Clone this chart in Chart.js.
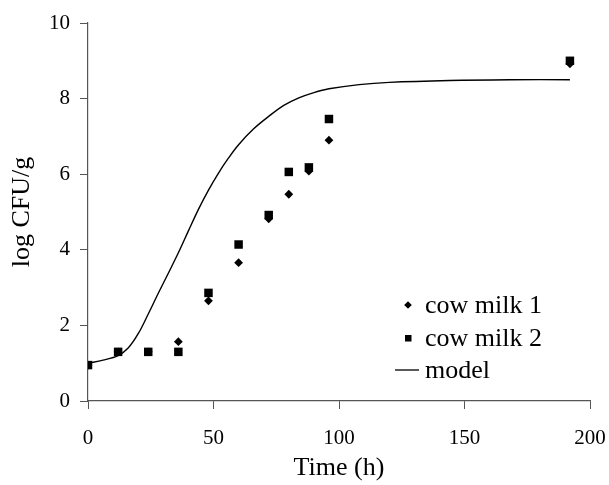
<!DOCTYPE html>
<html>
<head>
<meta charset="utf-8">
<script src="https://cdn.jsdelivr.net/npm/chart.js@4.4.1/dist/chart.umd.min.js"></script>
<style>
  html, body { margin: 0; padding: 0; background: #fff; }
  #wrap { width: 609px; height: 485px; }
</style>
</head>
<body>
<div id="wrap"><canvas id="c" width="609" height="485"></canvas></div>
<script>
// Observed data
const times = [0, 12, 24, 36, 48, 60, 72, 80, 88, 96, 192];
const cowMilk1 = [0.95, 1.3, 1.3, 1.57, 2.65, 3.66, 4.82, 5.47, 6.08, 6.9, 8.92];
const cowMilk2 = [0.95, 1.3, 1.3, 1.3, 2.86, 4.14, 4.92, 6.06, 6.18, 7.46, 9.0];
// Model curve
const modelTimes = [0, 6, 12, 16, 20, 24, 28, 32, 36, 40, 44, 48, 52, 56, 60, 66, 72, 78, 84, 90, 96, 108, 120, 144, 168, 192];
const modelValues = [1.0, 1.08, 1.2, 1.4, 1.78, 2.3, 2.85, 3.38, 3.92, 4.5, 5.07, 5.58, 6.03, 6.43, 6.78, 7.2, 7.53, 7.82, 8.02, 8.16, 8.26, 8.37, 8.43, 8.48, 8.5, 8.5];
// Axis ticks
const xTicks = [0, 50, 100, 150, 200];
const yTicks = [0, 2, 4, 6, 8, 10];
const seriesLabels = ['cow milk 1', 'cow milk 2', 'model'];

const FONT = "'Liberation Serif', 'Times New Roman', serif";
const AXIS = '#555555';

const pts = (xs, ys) => xs.map((x, i) => ({ x: x, y: ys[i] }));

const legendPlugin = {
  id: 'insideLegend',
  afterDraw(chart) {
    const ctx = chart.ctx;
    ctx.save();
    ctx.fillStyle = '#000';
    const rows = [305, 338, 370];
    const textX = 425;
    // diamond
    ctx.beginPath();
    Chart.helpers.drawPoint(ctx, { pointStyle: 'rectRot', radius: 3.6, borderWidth: 0 }, 408, rows[0]);
    ctx.fillStyle = '#000';
    ctx.fill();
    // square
    ctx.beginPath();
    ctx.rect(405, rows[1] - 3, 6.5, 6.5);
    ctx.fill();
    // line
    ctx.beginPath();
    ctx.strokeStyle = '#000';
    ctx.lineWidth = 1.3;
    ctx.moveTo(395, rows[2]);
    ctx.lineTo(419, rows[2]);
    ctx.stroke();
    ctx.font = "26px " + FONT;
    ctx.fillStyle = '#000';
    ctx.textBaseline = 'middle';
    ctx.textAlign = 'left';
    for (let i = 0; i < 3; i++) {
      ctx.fillText(chart.data.datasets[i].label, textX, rows[i] + 1);
    }
    ctx.restore();
  }
};

new Chart(document.getElementById('c'), {
  type: 'scatter',
  data: {
    datasets: [
      {
        label: seriesLabels[0],
        data: pts(times, cowMilk1),
        pointStyle: 'rectRot',
        pointRadius: 4.4,
        backgroundColor: '#000',
        borderColor: '#000',
        borderWidth: 0,
        showLine: false,
        order: 2
      },
      {
        label: seriesLabels[1],
        data: pts(times, cowMilk2),
        pointStyle: 'rect',
        pointRadius: 6,
        backgroundColor: '#000',
        borderColor: '#000',
        borderWidth: 0,
        showLine: false,
        order: 1
      },
      {
        label: seriesLabels[2],
        data: pts(modelTimes, modelValues),
        showLine: true,
        pointRadius: 0,
        borderColor: '#000',
        borderWidth: 1.4,
        tension: 0.35,
        fill: false,
        order: 0
      }
    ]
  },
  options: {
    responsive: false,
    animation: false,
    devicePixelRatio: 1,
    layout: { padding: { left: 0, right: 19, top: 23, bottom: 0 } },
    plugins: {
      legend: { display: false },
      tooltip: { enabled: false }
    },
    scales: {
      x: {
        type: 'linear',
        min: 0, max: 200,
        afterBuildTicks: (s) => { s.ticks = xTicks.map(v => ({ value: v })); },
        afterFit: (s) => { s.height = 84; s.paddingLeft = 0; s.paddingRight = 0; },
        grid: { drawOnChartArea: false, drawTicks: true, tickLength: 8, color: AXIS, lineWidth: 1 },
        border: { display: true, color: AXIS, width: 1.2 },
        ticks: { color: '#000', font: { family: FONT, size: 21 }, padding: 17, maxRotation: 0 },
        title: { display: true, text: 'Time (h)', color: '#000', font: { family: FONT, size: 26 }, padding: { top: 0, bottom: 1 } }
      },
      y: {
        type: 'linear',
        min: 0, max: 10,
        afterBuildTicks: (s) => { s.ticks = yTicks.map(v => ({ value: v })); },
        afterFit: (s) => { s.width = 88; s.paddingTop = 0; s.paddingBottom = 0; },
        grid: { drawOnChartArea: false, drawTicks: true, tickLength: 8, color: AXIS, lineWidth: 1 },
        border: { display: true, color: AXIS, width: 1.2 },
        ticks: { color: '#000', font: { family: FONT, size: 21 }, padding: 10 },
        title: { display: true, text: 'log CFU/g', color: '#000', font: { family: FONT, size: 26 }, padding: { top: 7, bottom: 0 } }
      }
    }
  },
  plugins: [legendPlugin]
});
</script>
</body>
</html>
